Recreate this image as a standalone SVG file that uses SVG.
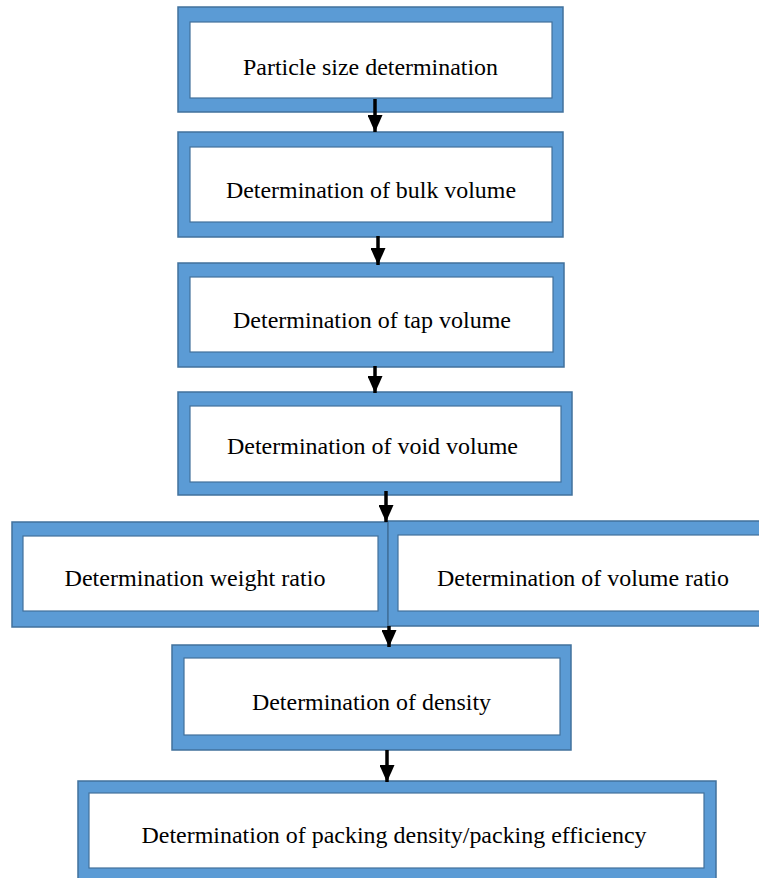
<svg xmlns="http://www.w3.org/2000/svg" width="759" height="878" viewBox="0 0 759 878">
<style>
.outer{fill:#5B9BD5;stroke:#41719C;stroke-width:1.5}
.inner{fill:#FFFFFF;stroke:#41719C;stroke-width:1.2}
.lbl{font-family:"Liberation Serif","Times New Roman",serif;font-size:23px;fill:#000;text-anchor:middle}
.arr{stroke:#000;stroke-width:3.5;fill:none}
</style>
<defs>
<marker id="ah" markerUnits="userSpaceOnUse" markerWidth="17" markerHeight="15" viewBox="0 -7.5 17 15" refX="17" refY="0" orient="auto">
<path d="M0,-7.5 L17,0 L0,7.5 z" fill="#000"/>
</marker>
</defs>
<rect width="759" height="878" fill="#fff"/>
<g id="n1">
<rect class="outer" x="178" y="7" width="385" height="105"/>
<rect class="inner" x="190" y="22" width="362" height="76"/>
<text class="lbl" x="370.5" y="75" textLength="255" lengthAdjust="spacingAndGlyphs">Particle size determination</text>
</g>
<g id="n2">
<rect class="outer" x="178" y="132" width="385" height="105"/>
<rect class="inner" x="190" y="147" width="362" height="75"/>
<text class="lbl" x="371" y="198" textLength="290" lengthAdjust="spacingAndGlyphs">Determination of bulk volume</text>
</g>
<g id="n3">
<rect class="outer" x="178" y="263" width="386" height="104"/>
<rect class="inner" x="190" y="277" width="363" height="75"/>
<text class="lbl" x="372" y="328" textLength="278" lengthAdjust="spacingAndGlyphs">Determination of tap volume</text>
</g>
<g id="n4">
<rect class="outer" x="178" y="392" width="394" height="103"/>
<rect class="inner" x="190" y="406" width="371" height="76"/>
<text class="lbl" x="372.5" y="454" textLength="291" lengthAdjust="spacingAndGlyphs">Determination of void volume</text>
</g>
<g id="n5a">
<rect class="outer" x="12" y="522" width="376" height="105"/>
<rect class="inner" x="23" y="536" width="355" height="75"/>
<text class="lbl" x="195" y="586" textLength="261" lengthAdjust="spacingAndGlyphs">Determination weight ratio</text>
</g>
<g id="n5b">
<rect class="outer" x="388" y="521" width="385" height="105"/>
<rect class="inner" x="398" y="535" width="375" height="76"/>
<text class="lbl" x="583" y="586" textLength="292" lengthAdjust="spacingAndGlyphs">Determination of volume ratio</text>
</g>
<g id="n6">
<rect class="outer" x="172" y="645" width="399" height="105"/>
<rect class="inner" x="184" y="658" width="376" height="77"/>
<text class="lbl" x="371.5" y="710" textLength="239" lengthAdjust="spacingAndGlyphs">Determination of density</text>
</g>
<g id="n7">
<rect class="outer" x="78" y="781" width="638" height="110"/>
<rect class="inner" x="89" y="793" width="615" height="75"/>
<text class="lbl" x="394" y="843" textLength="505" lengthAdjust="spacingAndGlyphs">Determination of packing density/packing efficiency</text>
</g>
<g id="connectors">
<line class="arr" x1="375" y1="99" x2="375" y2="132" marker-end="url(#ah)"/>
<line class="arr" x1="378" y1="236" x2="378" y2="265" marker-end="url(#ah)"/>
<line class="arr" x1="375" y1="366" x2="375" y2="393" marker-end="url(#ah)"/>
<line class="arr" x1="386" y1="491" x2="386" y2="522" marker-end="url(#ah)"/>
<line class="arr" x1="389" y1="626" x2="389" y2="647" marker-end="url(#ah)"/>
<line class="arr" x1="387" y1="750" x2="387" y2="782" marker-end="url(#ah)"/>
</g>
</svg>
